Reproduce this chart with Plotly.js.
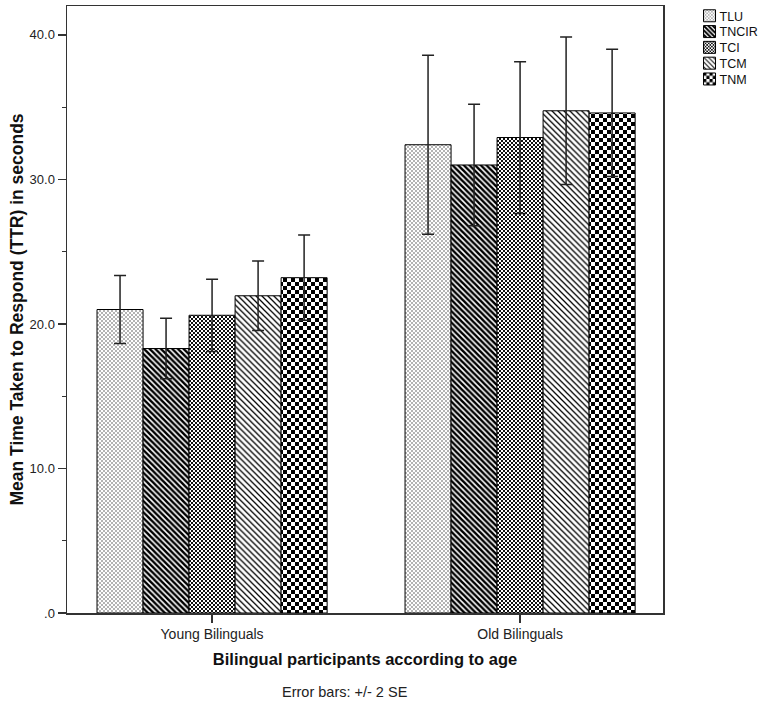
<!DOCTYPE html>
<html>
<head>
<meta charset="utf-8">
<script src="https://cdn.plot.ly/plotly-3.0.1.min.js"></script>
<style>
  html, body { margin: 0; padding: 0; background: #fff; }
  #chart { width: 765px; height: 705px; }
</style>
</head>
<body>
<div id="chart"></div>
<script>
// ---- data ----
var categories = ['Young Bilinguals', 'Old Bilinguals'];
var seriesNames = ['TLU', 'TNCIR', 'TCI', 'TCM', 'TNM'];
var TLU   = [21.0, 32.4];
var TNCIR = [18.3, 31.0];
var TCI   = [20.6, 32.9];
var TCM   = [21.95, 34.75];
var TNM   = [23.2, 34.6];
// +/- 2 SE
var TLU_err   = [2.35, 6.2];
var TNCIR_err = [2.1, 4.2];
var TCI_err   = [2.5, 5.25];
var TCM_err   = [2.4, 5.1];
var TNM_err   = [2.95, 4.4];
var yTickVals = [0, 10, 20, 30, 40];
var yTickText = ['.0', '10.0', '20.0', '30.0', '40.0'];
var yMinorTickVals = [5, 15, 25, 35];

var FONT = 'Liberation Sans, Arial, Helvetica, sans-serif';
var values = [TLU, TNCIR, TCI, TCM, TNM];
var errors = [TLU_err, TNCIR_err, TCI_err, TCM_err, TNM_err];
var patterns = [
  {shape: '.', size: 3, solidity: 0.3, fgcolor: '#999', bgcolor: '#fff'},
  {shape: '\\', size: 4, solidity: 0.62, fgcolor: '#000', bgcolor: '#fff'},
  {shape: '.', size: 4, solidity: 0.5, fgcolor: '#000', bgcolor: '#fff'},
  {shape: '\\', size: 4.2, solidity: 0.3, fgcolor: '#000', bgcolor: '#fff'},
  {shape: '.', size: 8, solidity: 0.5, fgcolor: '#000', bgcolor: '#fff'}
];
// checkerboard cell sizes (px) applied over the dotted patterns
var checker = [ {cell: 2, fg: '#b4b4b4'}, null, {cell: 2, fg: '#111'}, null, {cell: 4, fg: '#000'} ];

var traces = seriesNames.map(function (name, i) {
  return {
    type: 'bar',
    name: name,
    x: categories,
    y: values[i],
    marker: {
      color: '#fff',
      line: {color: '#000', width: 1},
      pattern: patterns[i]
    },
    error_y: {
      type: 'data', array: errors[i], visible: true,
      color: '#222', thickness: 1.5, width: 6
    }
  };
});

var layout = {
  width: 765, height: 705,
  margin: {l: 67, r: 102, t: 6, b: 92, autoexpand: false},
  paper_bgcolor: '#fff', plot_bgcolor: '#fff',
  font: {family: FONT, color: '#1a1a1a'},
  barmode: 'group', bargap: 0.253, bargroupgap: 0,
  showlegend: true,
  legend: {
    x: 1.0445, xanchor: 'left', y: 1.008, yanchor: 'top',
    font: {family: FONT, size: 12.5, color: '#111'},
    bgcolor: 'rgba(0,0,0,0)', borderwidth: 0, itemwidth: 30
  },
  xaxis: {
    type: 'category', range: [-0.471, 1.464],
    showline: true, mirror: true, linecolor: '#333', linewidth: 1.5,
    ticks: 'outside', ticklen: 8, tickcolor: '#333', tickwidth: 1.2,
    tickfont: {family: FONT, size: 14, color: '#222'},
    showgrid: false, zeroline: false,
    title: {text: 'Bilingual participants according to age', standoff: 12,
            font: {family: FONT, size: 16.5, color: '#111', weight: 700}}
  },
  yaxis: {
    range: [0, 42],
    tickmode: 'array', tickvals: yTickVals, ticktext: yTickText,
    showline: true, mirror: true, linecolor: '#333', linewidth: 1.5,
    ticks: 'outside', ticklen: 8, tickcolor: '#333', tickwidth: 1.2,
    tickfont: {family: FONT, size: 13, color: '#222'},
    minor: {tickmode: 'array', tickvals: yMinorTickVals, ticks: 'outside',
            ticklen: 4, tickcolor: '#333', tickwidth: 1.2, showgrid: false},
    showgrid: false, zeroline: false,
    title: {text: 'Mean Time Taken to Respond (TTR) in seconds', standoff: 1,
            font: {family: FONT, size: 17.5, color: '#111', weight: 700}}
  },
  annotations: [{
    text: 'Error bars: +/- 2 SE', showarrow: false,
    xref: 'paper', yref: 'paper', x: 0.466, y: -0.130,
    xanchor: 'center', yanchor: 'middle',
    font: {family: FONT, size: 14.5, color: '#222'}
  }]
};

function checkerize(gd) {
  var svgNS = 'http://www.w3.org/2000/svg';
  var groups = [
    gd.querySelectorAll('.barlayer .trace'),
    gd.querySelectorAll('.legend .traces')
  ];
  var done = {};
  groups.forEach(function (list) {
    for (var i = 0; i < list.length; i++) {
      var spec = checker[i];
      if (!spec) continue;
      var paths = list[i].querySelectorAll('path');
      paths.forEach(function (p) {
        var f = p.style.fill || p.getAttribute('fill') || '';
        var m = f.match(/#([^"')\s]+)/);
        if (!m) return;
        var id = m[1];
        if (done[id]) return;
        var pat = document.getElementById(id);
        if (!pat) return;
        done[id] = true;
        var c = spec.cell;
        while (pat.firstChild) pat.removeChild(pat.firstChild);
        pat.setAttribute('width', 2 * c);
        pat.setAttribute('height', 2 * c);
        pat.setAttribute('patternUnits', 'userSpaceOnUse');
        var bg = document.createElementNS(svgNS, 'rect');
        bg.setAttribute('width', 2 * c); bg.setAttribute('height', 2 * c);
        bg.setAttribute('fill', '#fff');
        pat.appendChild(bg);
        [[0, 0], [c, c]].forEach(function (xy) {
          var r = document.createElementNS(svgNS, 'rect');
          r.setAttribute('x', xy[0]); r.setAttribute('y', xy[1]);
          r.setAttribute('width', c); r.setAttribute('height', c);
          r.setAttribute('fill', spec.fg);
          pat.appendChild(r);
        });
      });
    }
  });
}

function tightenLegend(gd) {
  var items = gd.querySelectorAll('.legend .traces');
  if (!items.length) return;
  var y0 = null;
  items.forEach(function (it, i) {
    var t = it.getAttribute('transform') || '';
    var m = t.match(/translate\(\s*([-\d.]+)[ ,]+([-\d.]+)\s*\)/);
    if (!m) return;
    var x = parseFloat(m[1]), y = parseFloat(m[2]);
    if (y0 === null) y0 = y;
    it.setAttribute('transform', 'translate(' + x + ',' + (y0 + i * 15.8) + ')');
    var txt = it.querySelector('.legendtext');
    if (txt) {
      var tx = parseFloat(txt.getAttribute('x') || '40');
      txt.setAttribute('x', tx - 10);
    }
  });
}

Plotly.newPlot('chart', traces, layout, {staticPlot: true, displayModeBar: false})
  .then(function (gd) { checkerize(gd); tightenLegend(gd); });
</script>
</body>
</html>
